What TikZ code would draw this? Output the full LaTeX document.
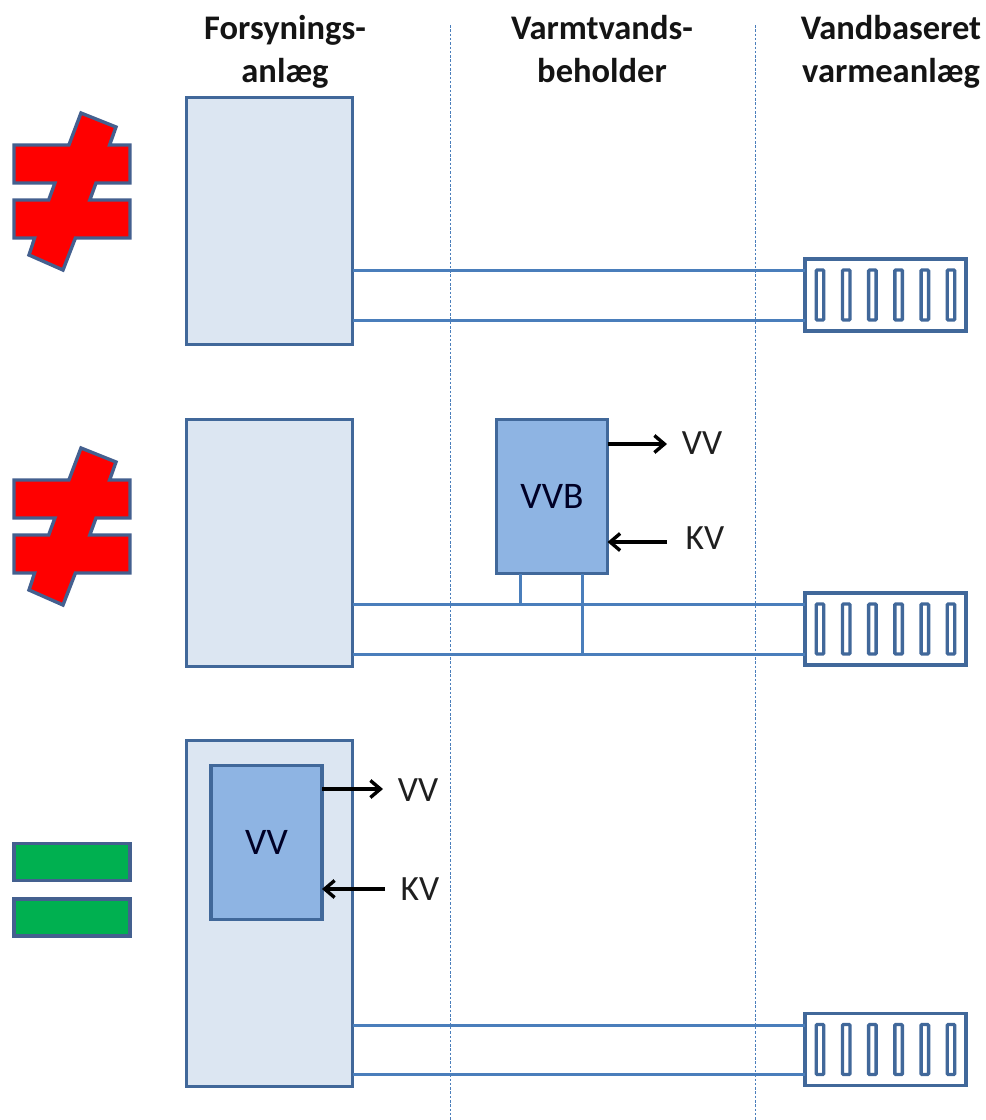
\documentclass[tikz,border=0pt]{standalone}
\usepackage{fontspec}
\setmainfont{Carlito}
\usetikzlibrary{arrows.meta}
\definecolor{plantfill}{HTML}{DCE6F2}
\definecolor{tankfill}{HTML}{8EB4E3}
\definecolor{edgeblue}{HTML}{41689A}
\definecolor{pipeblue}{HTML}{4A7EBB}
\definecolor{symred}{HTML}{FF0000}
\definecolor{symgreen}{HTML}{00B050}
\definecolor{symedge}{HTML}{44608F}
\tikzset{
  plantbox/.style={draw=edgeblue,line width=3.2pt,fill=plantfill,inner sep=0pt,outer sep=0pt,minimum width=166pt},
  tankbox/.style={draw=edgeblue,line width=3.4pt,fill=tankfill,inner sep=0pt,outer sep=0pt,minimum width=111pt,minimum height=154pt,font=\fontsize{37.5}{42}\selectfont,text=black!85!blue},
  radbox/.style={draw=edgeblue,line width=3.2pt,fill=white,inner sep=0pt,outer sep=0pt,minimum width=161pt,minimum height=72pt},
  ribbox/.style={draw=edgeblue,line width=3.4pt,fill=white,inner sep=0pt,outer sep=0pt,minimum width=7.5pt,minimum height=50pt,rounded corners=1pt},
  pipe/.style={draw=pipeblue,line width=3pt},
  flow/.style={draw=black,line width=3.4pt,-{Straight Barb[length=10pt,width=17pt,line width=3.4pt]}},
  guide/.style={draw=pipeblue,line width=0.9pt,dash pattern=on 2.5pt off 1.8pt},
  heading/.style={font=\bfseries\fontsize{34.5}{43}\selectfont,align=center,text=black!92,inner sep=0pt,anchor=north},
  flowlabel/.style={font=\fontsize{35.5}{40}\selectfont,text=black!88,inner sep=0pt},
  symbar/.style={draw=symedge,line width=3.2pt,line join=miter,fill=symgreen},
  symneq/.style={draw=symedge,line width=3.4pt,line join=miter,fill=symred},
  pics/radiator/.style={code={
    \foreach \rx in {0,1,2,3,4,5} {
      \node[ribbox] (#1rib\rx) at ({-65.5+26.2*\rx},0) {};
    }
  }},
  pics/noteq/.style={code={
    \path[symneq] (81,113) -- (116,127) -- (109.6,145) -- (130,145) -- (130,183) -- (96,183)
      -- (89.8,200) -- (130,200) -- (130,238) -- (75.4,238) -- (63,270) -- (29,255)
      -- (34.6,238) -- (14,238) -- (14,200) -- (48.7,200) -- (54.9,183) -- (14,183)
      -- (14,145) -- (68.9,145) -- cycle;
  }}
}
\begin{document}
\begin{tikzpicture}[x=1pt,y=-1pt]
\useasboundingbox (0,0) rectangle (986,1120);
% guides
\coordinate (g1top) at (450,25); \coordinate (g1bot) at (450,1120);
\coordinate (g2top) at (755,25); \coordinate (g2bot) at (755,1120);
\draw[guide] (g1top) -- (g1bot);
\draw[guide] (g2top) -- (g2bot);
% headings
\node[heading] (h1) at (285,9.6) {\strut Forsynings-\\anlæg\strut};
\node[heading] (h2) at (602,9.6) {\strut Varmtvands-\\beholder\strut};
\node[heading] (h3) at (891,9.6) {\strut Vandbaseret\\varmeanlæg\strut};
% level marks on the radiators
\coordinate (a1) at (0,270); \coordinate (b1) at (0,320);
\coordinate (a2) at (0,604); \coordinate (b2) at (0,654);
\coordinate (a3) at (0,1025); \coordinate (b3) at (0,1074);
% plants
\node[plantbox,minimum height=247pt] (plant1) at (269.5,221) {};
\node[plantbox,minimum height=247pt] (plant2) at (269.5,543) {};
\node[plantbox,minimum height=346pt] (plant3) at (269.5,913.5) {};
% radiators
\node[radbox] (rad1) at (885.5,295) {};
\node[radbox] (rad2) at (885.5,629) {};
\node[radbox] (rad3) at (885.5,1049.5) {};
\pic at (885.5,295) {radiator=ra};
\pic at (885.5,629) {radiator=rb};
\pic at (885.5,1049.5) {radiator=rc};
% pipes
\draw[pipe] (plant1.east |- a1) -- (rad1.west |- a1);
\draw[pipe] (plant1.east |- b1) -- (rad1.west |- b1);
\draw[pipe] (plant2.east |- a2) -- (rad2.west |- a2);
\draw[pipe] (plant2.east |- b2) -- (rad2.west |- b2);
\draw[pipe] (plant3.east |- a3) -- (rad3.west |- a3);
\draw[pipe] (plant3.east |- b3) -- (rad3.west |- b3);
% tank VVB
\coordinate (s1) at (520,0); \coordinate (s2) at (582,0);
\node[tankbox] (vvb) at (552,496.5) {VVB};
\draw[pipe] (vvb.south -| s1) -- (s1 |- a2);
\draw[pipe] (vvb.south -| s2) -- (s2 |- b2);
\node[flowlabel] (vvb-vv) at (702,443) {VV};
\node[flowlabel] (vvb-kv) at (705,538) {KV};
\coordinate (f1) at (667,444); \coordinate (f2) at (667,542);
\draw[flow] (vvb.east |- f1) -- (f1);
\draw[flow] (f2) -- (vvb.east |- f2);
% tank VV
\node[tankbox] (vvi) at (266.5,842.5) {VV};
\node[flowlabel] (vvi-vv) at (418,790) {VV};
\node[flowlabel] (vvi-kv) at (420,889) {KV};
\coordinate (f3) at (383,789); \coordinate (f4) at (385,889);
\draw[flow] (vvi.east |- f3) -- (f3);
\draw[flow] (f4) -- (vvi.east |- f4);
% symbols
\pic at (0,0) {noteq};
\pic at (0,335) {noteq};
\node[symbar,inner sep=0pt,outer sep=0pt,minimum width=116pt,minimum height=37pt] (eq1) at (72,862) {};
\node[symbar,inner sep=0pt,outer sep=0pt,minimum width=116pt,minimum height=37pt] (eq2) at (72,917.5) {};
\end{tikzpicture}
\end{document}
